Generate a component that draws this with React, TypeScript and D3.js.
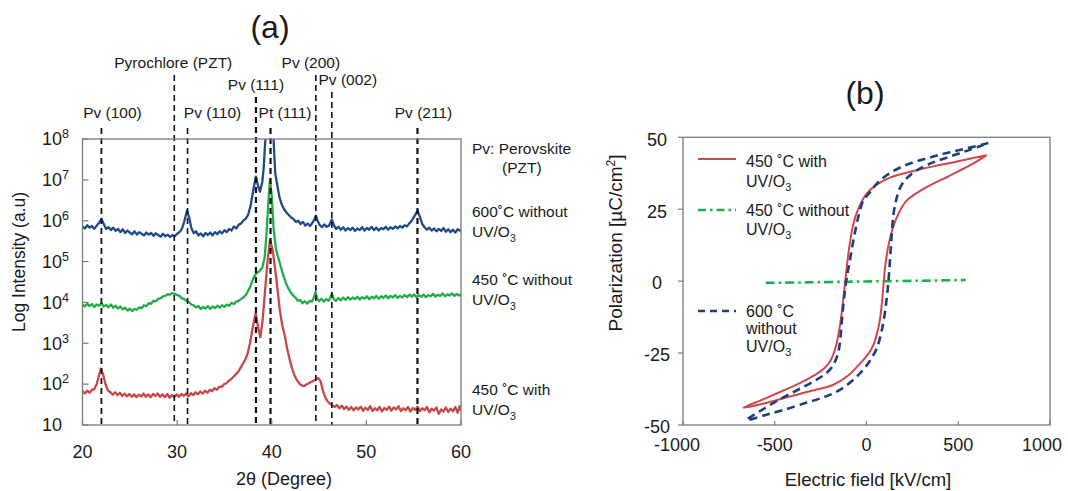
import React from 'react';
import * as d3 from 'd3';

const FONT = '"Liberation Sans", Arial, Helvetica, sans-serif';
const TEXT = '#1a1a1a';

// ---------- Panel (a): XRD, [2θ (deg), log10 intensity] ----------
const xrd600without: [number, number][] = [
  [20, 5.86], [20.25, 5.81], [20.5, 5.89], [20.75, 5.83], [21, 5.87], [21.25, 5.8], [21.5, 5.88], [21.75, 5.95],
  [22, 6.04], [22.25, 5.92], [22.5, 5.8], [22.75, 5.84], [23, 5.77], [23.25, 5.83], [23.5, 5.75], [23.75, 5.8],
  [24, 5.72], [24.25, 5.79], [24.5, 5.7], [24.75, 5.76], [25, 5.71], [25.25, 5.67], [25.5, 5.74], [25.75, 5.66],
  [26, 5.72], [26.25, 5.68], [26.5, 5.64], [26.75, 5.71], [27, 5.66], [27.25, 5.7], [27.5, 5.63], [27.75, 5.69],
  [28, 5.65], [28.25, 5.61], [28.5, 5.68], [28.75, 5.62], [29, 5.66], [29.25, 5.6], [29.5, 5.65], [29.75, 5.62],
  [30, 5.68], [30.25, 5.72], [30.5, 5.8], [30.75, 5.98], [31.05, 6.25], [31.3, 6.05], [31.5, 5.82], [31.75, 5.7],
  [32, 5.74], [32.25, 5.64], [32.5, 5.69], [32.75, 5.62], [33, 5.7], [33.25, 5.65], [33.5, 5.71], [33.75, 5.64],
  [34, 5.72], [34.25, 5.67], [34.5, 5.74], [34.75, 5.69], [35, 5.77], [35.25, 5.72], [35.5, 5.8], [35.75, 5.76],
  [36, 5.86], [36.25, 5.81], [36.5, 5.9], [36.75, 5.93], [37, 6.0], [37.25, 6.05], [37.5, 6.14], [37.75, 6.35],
  [38.05, 6.75], [38.33, 7.08], [38.55, 6.85], [38.75, 6.71], [39.0, 6.95], [39.15, 7.3], [39.3, 7.9],
  [39.5, 8.4], [39.9, 8.6], [40.15, 8.2], [40.37, 7.16], [40.6, 6.85], [40.8, 6.59], [41.05, 6.4],
  [41.3, 6.28], [41.55, 6.2], [41.8, 6.14], [42.05, 6.08], [42.3, 6.04], [42.55, 5.97], [42.8, 6.0],
  [43.05, 5.92], [43.3, 5.97], [43.55, 5.88], [43.8, 5.93], [44.05, 5.87], [44.3, 5.95], [44.5, 6.03],
  [44.66, 6.12], [44.85, 6.0], [45.05, 5.9], [45.3, 5.84], [45.55, 5.91], [45.8, 5.85], [46.05, 5.88],
  [46.2, 5.95], [46.35, 6.03], [46.55, 5.9], [46.8, 5.8], [47.05, 5.85], [47.3, 5.78], [47.55, 5.84],
  [47.8, 5.76], [48.05, 5.82], [48.3, 5.77], [48.55, 5.83], [48.8, 5.75], [49.05, 5.81], [49.3, 5.77],
  [49.55, 5.84], [49.8, 5.76], [50.05, 5.82], [50.3, 5.78], [50.55, 5.85], [50.8, 5.77], [51.05, 5.83],
  [51.3, 5.76], [51.55, 5.82], [51.8, 5.79], [52.05, 5.85], [52.3, 5.78], [52.55, 5.84], [52.8, 5.8],
  [53.05, 5.86], [53.3, 5.81], [53.55, 5.87], [53.8, 5.83], [54.05, 5.89], [54.3, 5.86], [54.55, 5.94],
  [54.8, 6.0], [55.05, 6.1], [55.4, 6.24], [55.65, 6.1], [55.9, 5.92], [56.15, 5.84], [56.4, 5.78],
  [56.65, 5.83], [56.9, 5.76], [57.15, 5.81], [57.4, 5.74], [57.65, 5.8], [57.9, 5.75], [58.15, 5.82],
  [58.4, 5.73], [58.65, 5.79], [58.9, 5.72], [59.15, 5.78], [59.4, 5.71], [59.65, 5.79], [60, 5.74],
];

const xrd450without: [number, number][] = [
  [20, 3.95], [20.25, 3.9], [20.5, 3.97], [20.75, 3.91], [21, 3.96], [21.25, 3.89], [21.5, 3.95], [21.75, 3.92],
  [22, 3.98], [22.25, 3.9], [22.5, 3.94], [22.75, 3.88], [23, 3.95], [23.25, 3.87], [23.5, 3.92], [23.75, 3.85],
  [24, 3.9], [24.25, 3.83], [24.5, 3.87], [24.75, 3.8], [25, 3.85], [25.25, 3.79], [25.5, 3.84], [25.75, 3.82],
  [26, 3.88], [26.25, 3.86], [26.5, 3.93], [26.75, 3.91], [27, 3.98], [27.25, 3.97], [27.5, 4.04], [27.75, 4.03],
  [28, 4.09], [28.25, 4.1], [28.5, 4.15], [28.75, 4.16], [29, 4.2], [29.25, 4.19], [29.5, 4.23], [29.75, 4.21],
  [30, 4.18], [30.25, 4.16], [30.5, 4.1], [30.75, 4.08], [31, 4.04], [31.25, 4.01], [31.5, 3.95], [31.75, 3.93],
  [32, 3.88], [32.25, 3.91], [32.5, 3.84], [32.75, 3.89], [33, 3.85], [33.25, 3.91], [33.5, 3.84], [33.75, 3.9],
  [34, 3.86], [34.25, 3.92], [34.5, 3.87], [34.75, 3.93], [35, 3.89], [35.25, 3.95], [35.5, 3.92], [35.75, 3.99],
  [36, 3.96], [36.25, 4.02], [36.5, 4.04], [36.75, 4.08], [37, 4.12], [37.25, 4.18], [37.5, 4.28], [37.75, 4.4],
  [38, 4.56], [38.25, 4.68], [38.5, 4.73], [38.75, 4.78], [39.0, 4.85], [39.25, 5.1], [39.45, 5.7], [39.65, 6.5],
  [39.82, 7.0], [40.0, 6.6], [40.2, 5.8], [40.45, 5.3], [40.85, 4.96], [41.2, 4.68], [41.5, 4.47], [41.75, 4.35],
  [42, 4.25], [42.25, 4.17], [42.5, 4.12], [42.75, 4.04], [43, 4.06], [43.25, 3.98], [43.5, 4.03], [43.75, 3.97],
  [44, 4.04], [44.25, 4.02], [44.45, 4.12], [44.62, 4.25], [44.8, 4.1], [45.0, 4.03], [45.25, 4.09], [45.5, 4.02],
  [45.75, 4.08], [46.0, 4.04], [46.2, 4.12], [46.35, 4.22], [46.55, 4.08], [46.8, 4.04], [47.05, 4.11],
  [47.3, 4.05], [47.55, 4.12], [47.8, 4.06], [48.05, 4.13], [48.3, 4.07], [48.55, 4.12], [48.8, 4.08],
  [49.05, 4.14], [49.3, 4.07], [49.55, 4.13], [49.8, 4.09], [50.05, 4.15], [50.3, 4.08], [50.55, 4.14],
  [50.8, 4.1], [51.05, 4.16], [51.3, 4.09], [51.55, 4.15], [51.8, 4.11], [52.05, 4.17], [52.3, 4.1],
  [52.55, 4.16], [52.8, 4.12], [53.05, 4.18], [53.3, 4.11], [53.55, 4.16], [53.8, 4.12], [54.05, 4.18],
  [54.3, 4.13], [54.55, 4.19], [54.8, 4.14], [55.05, 4.19], [55.3, 4.13], [55.55, 4.18], [55.8, 4.14],
  [56.05, 4.19], [56.3, 4.13], [56.55, 4.18], [56.8, 4.15], [57.05, 4.21], [57.3, 4.14], [57.55, 4.19],
  [57.8, 4.16], [58.05, 4.22], [58.3, 4.15], [58.55, 4.2], [58.8, 4.17], [59.05, 4.22], [59.3, 4.16],
  [59.55, 4.21], [59.8, 4.17], [60, 4.2],
];

const xrd450with: [number, number][] = [
  [20, 1.83], [20.25, 1.77], [20.5, 1.84], [20.75, 1.79], [21, 1.86], [21.25, 1.88], [21.5, 2.0], [21.7, 2.18],
  [21.95, 2.38], [22.2, 2.22], [22.45, 1.98], [22.7, 1.84], [22.95, 1.8], [23.2, 1.74], [23.45, 1.8], [23.7, 1.73],
  [23.95, 1.79], [24.2, 1.71], [24.45, 1.77], [24.7, 1.7], [24.95, 1.76], [25.2, 1.69], [25.45, 1.75], [25.7, 1.68],
  [25.95, 1.74], [26.2, 1.7], [26.45, 1.77], [26.7, 1.69], [26.95, 1.75], [27.2, 1.68], [27.45, 1.76], [27.7, 1.71],
  [27.95, 1.77], [28.2, 1.69], [28.45, 1.75], [28.7, 1.68], [28.95, 1.76], [29.2, 1.67], [29.45, 1.73], [29.7, 1.68],
  [29.95, 1.75], [30.2, 1.69], [30.45, 1.76], [30.7, 1.71], [30.95, 1.77], [31.2, 1.7], [31.45, 1.78], [31.7, 1.73],
  [31.95, 1.8], [32.2, 1.75], [32.45, 1.82], [32.7, 1.77], [32.95, 1.84], [33.2, 1.79], [33.45, 1.86], [33.7, 1.83],
  [33.95, 1.9], [34.2, 1.86], [34.45, 1.94], [34.7, 1.93], [34.95, 2.0], [35.2, 2.02], [35.45, 2.08], [35.7, 2.12],
  [35.95, 2.18], [36.2, 2.24], [36.45, 2.3], [36.7, 2.4], [36.95, 2.5], [37.2, 2.6], [37.45, 2.75], [37.7, 3.0],
  [38.0, 3.4], [38.3, 3.74], [38.55, 3.4], [38.8, 3.15], [39.05, 3.6], [39.3, 4.3], [39.55, 5.0], [39.82, 5.53],
  [40.1, 5.28], [40.5, 4.55], [40.85, 3.81], [41.1, 3.45], [41.4, 3.16], [41.65, 2.85], [41.9, 2.6], [42.15, 2.38],
  [42.4, 2.22], [42.65, 2.1], [42.9, 2.02], [43.15, 1.97], [43.4, 1.95], [43.65, 1.99], [43.9, 2.02], [44.15, 2.05],
  [44.4, 2.08], [44.65, 2.12], [44.9, 2.15], [45.15, 2.08], [45.4, 1.85], [45.65, 1.68], [45.9, 1.58], [46.15, 1.52],
  [46.4, 1.48], [46.65, 1.44], [46.9, 1.49], [47.15, 1.41], [47.4, 1.47], [47.65, 1.39], [47.9, 1.45], [48.15, 1.37],
  [48.4, 1.44], [48.65, 1.36], [48.9, 1.43], [49.15, 1.38], [49.4, 1.45], [49.65, 1.35], [49.9, 1.42], [50.15, 1.37],
  [50.4, 1.46], [50.65, 1.34], [50.9, 1.41], [51.15, 1.36], [51.4, 1.44], [51.65, 1.33], [51.9, 1.42], [52.15, 1.37],
  [52.4, 1.45], [52.65, 1.35], [52.9, 1.43], [53.15, 1.38], [53.4, 1.46], [53.65, 1.34], [53.9, 1.41], [54.15, 1.36],
  [54.4, 1.44], [54.65, 1.33], [54.9, 1.42], [55.15, 1.37], [55.4, 1.45], [55.65, 1.34], [55.9, 1.41], [56.15, 1.36],
  [56.4, 1.44], [56.65, 1.31], [56.9, 1.4], [57.15, 1.35], [57.4, 1.43], [57.65, 1.27], [57.9, 1.38], [58.15, 1.33],
  [58.4, 1.43], [58.65, 1.32], [58.9, 1.4], [59.15, 1.34], [59.4, 1.44], [59.65, 1.3], [59.85, 1.46], [60, 1.35],
];

const peakPositions = [22.0, 29.7, 31.1, 38.33, 39.87, 44.66, 46.35, 55.4];
const peakNames = ['Pv (100)', 'Pyrochlore (PZT)', 'Pv (110)', 'Pv (111)', 'Pt (111)', 'Pv (200)', 'Pv (002)', 'Pv (211)'];
const xTicksA = [20, 30, 40, 50, 60];
const yExponentsA = [1, 2, 3, 4, 5, 6, 7, 8];
const seriesNotesA = [
  ['Pv: Perovskite', '(PZT)'],
  ['600˚C without', 'UV/O_3'],
  ['450 ˚C without', 'UV/O_3'],
  ['450 ˚C with', 'UV/O_3'],
];

// ---------- Panel (b): P-E loops, [E (kV/cm), P (µC/cm²)] ----------
const loop450with: [number, number][] = [
  [655, 43.8], [550, 42.4], [450, 41], [364, 39.9], [250, 38.2], [128, 36], [50, 33.3], [1, 30.4],
  [-35, 26.5], [-60, 22.5], [-78, 18], [-90, 13.5], [-99, 9.6], [-108, 4.5], [-117, -0.8], [-127, -6.5],
  [-137, -12], [-150, -17.5], [-168, -23], [-195, -27.5], [-230, -30.3], [-271, -32.2], [-350, -35],
  [-453, -38], [-560, -41], [-671, -44],
  [-560, -42.5], [-453, -40.7], [-330, -38.6], [-181, -36], [-100, -32.8], [-35, -28.6], [10, -25.3],
  [40, -21.8], [60, -17.5], [74, -13], [84, -7.5], [92, -1.5], [100, 4], [110, 9], [125, 14], [146, 19],
  [180, 24.2], [219, 28], [290, 31.3], [364, 33.9], [440, 36.2], [510, 38.5], [585, 41], [655, 43.8],
];

const loop600without: [number, number][] = [
  [664, 48], [550, 46.2], [455, 44.8], [364, 43.3], [270, 41.6], [183, 39.5], [110, 36.8], [55, 33.8],
  [15, 30.6], [-17, 28.1], [-40, 23.5], [-58, 18.5], [-75, 13], [-90, 7.5], [-104, 2.5], [-116, -2.5],
  [-126, -8], [-134, -13.5], [-141, -19], [-150, -23.5], [-165, -27], [-190, -30], [-225, -32.3],
  [-271, -34.2], [-360, -37.3], [-453, -40.4], [-550, -44], [-653, -48.3],
  [-550, -46.5], [-453, -44.8], [-330, -42.3], [-240, -40.5], [-181, -39], [-110, -36.3], [-35, -32],
  [15, -28], [55, -23.5], [80, -18], [98, -12], [110, -6], [119, -0.5], [126, 5.5], [133, 12], [140, 18.5],
  [150, 24.5], [165, 29], [185, 32.7], [220, 35.8], [274, 38.5], [360, 41.2], [455, 43.3], [560, 45.6],
  [664, 48],
];

const line450without: [number, number][] = [
  [-549, -0.6], [-300, -0.4], [0, -0.1], [300, 0.15], [541, 0.4],
];

const xTicksB = [-1000, -500, 0, 500, 1000];
const yTicksB = [-50, -25, 0, 25, 50];
const legendB = [
  ['450 ˚C with', 'UV/O_3'],
  ['450 ˚C without', 'UV/O_3'],
  ['600 ˚C', 'without', 'UV/O_3'],
];

// ---------- layout ----------
const A = { left: 82.5, right: 461, top: 139, bottom: 425 };
const B = { left: 683, right: 1050, top: 137.3, bottom: 425 };
const peakLayout = [
  { dx: 11, labelY: 113, lineTop: 128, w: 1.8 },
  { dx: -1, labelY: 63, lineTop: 75, w: 1.6 },
  { dx: 25, labelY: 113, lineTop: 128, w: 1.6 },
  { dx: 0, labelY: 85, lineTop: 97, w: 2.2 },
  { dx: 14.5, labelY: 113, lineTop: 128, w: 2.2 },
  { dx: -5, labelY: 63, lineTop: 75, w: 1.6 },
  { dx: 16, labelY: 80, lineTop: 92, w: 1.6 },
  { dx: 6, labelY: 113, lineTop: 128, w: 2.2 },
];
const notesLayout = [
  { ys: [149, 168], xs: [472, 502] },
  { ys: [212, 232], xs: [472, 472] },
  { ys: [280, 300], xs: [472, 472] },
  { ys: [390, 410], xs: [472, 472] },
];
const legendLayout = [
  { sampleY: 159, ys: [161, 181] },
  { sampleY: 210, ys: [210, 229] },
  { sampleY: 311, ys: [311, 328, 346] },
];
const xTickLabelDxB = [-6, 0, 0, 0, -8];

const colorsA = { c600: '#1f4b8c', c450wo: '#22ac4a', c450w: '#c8484a' };
const colorsB = { red: '#d2474b', green: '#1fae4a', blue: '#1d3f7e' };

function Label({ x, y, text, size, anchor = 'start' }: { x: number; y: number; text: string; size: number; anchor?: string }) {
  const [main, sub] = text.split('_');
  return (
    <text x={x} y={y} dy="0.35em" fontSize={size} textAnchor={anchor as any} fill={TEXT} fontFamily={FONT}>
      {main}
      {sub !== undefined && (
        <tspan fontSize={size * 0.68} dy={size * 0.3}>{sub}</tspan>
      )}
    </text>
  );
}

export default function App() {
  const ax = d3.scaleLinear().domain([20, 60]).range([A.left, A.right]);
  const ay = d3.scaleLog().domain([10, 1e8]).range([A.bottom, A.top]);
  const lineA = d3
    .line<[number, number]>()
    .x((d) => ax(d[0]))
    .y((d) => ay(Math.pow(10, d[1])));

  const bx = d3.scaleLinear().domain([-1000, 1000]).range([B.left, B.right]);
  const by = d3.scaleLinear().domain([-50, 50]).range([B.bottom, B.top]);
  const lineB = d3
    .line<[number, number]>()
    .x((d) => bx(d[0]))
    .y((d) => by(d[1]))
    .curve(d3.curveCatmullRom.alpha(0.5));

  const frame = '#7a7a7a';

  return (
    <svg
      width={1068}
      height={491}
      style={{ position: 'absolute', left: 0, top: 0, background: '#fff' }}
      fontFamily={FONT}
    >
      <rect x={0} y={0} width={1068} height={491} fill="#fff" />
      <defs>
        <clipPath id="clipA">
          <rect x={A.left} y={A.top} width={A.right - A.left} height={A.bottom - A.top} />
        </clipPath>
        <clipPath id="clipB">
          <rect x={B.left} y={B.top} width={B.right - B.left} height={B.bottom - B.top} />
        </clipPath>
      </defs>

      {/* ===== Panel (a) ===== */}
      <text x={270} y={27} dy="0.35em" fontSize={32} textAnchor="middle" fill={TEXT}>(a)</text>

      <g clipPath="url(#clipA)">
        <path d={lineA(xrd450with) || ''} fill="none" stroke={colorsA.c450w} strokeWidth={2.3} strokeLinejoin="round" />
        <path d={lineA(xrd450without) || ''} fill="none" stroke={colorsA.c450wo} strokeWidth={2.3} strokeLinejoin="round" />
        <path d={lineA(xrd600without) || ''} fill="none" stroke={colorsA.c600} strokeWidth={2.3} strokeLinejoin="round" />
      </g>

      {peakPositions.map((p, i) => {
        const L = peakLayout[i];
        const x = ax(p);
        return (
          <g key={'pk' + i}>
            <line x1={x} x2={x} y1={L.lineTop} y2={A.bottom} stroke="#111" strokeWidth={L.w} strokeDasharray="6,4" />
            <Label x={x + L.dx} y={L.labelY} text={peakNames[i]} size={15.5} anchor="middle" />
          </g>
        );
      })}

      <rect x={A.left} y={A.top} width={A.right - A.left} height={A.bottom - A.top} fill="none" stroke={frame} strokeWidth={1.3} />

      {yExponentsA.map((e) => (
        <g key={'ya' + e}>
          <line x1={A.left} x2={A.left + 6} y1={ay(Math.pow(10, e))} y2={ay(Math.pow(10, e))} stroke={frame} strokeWidth={1.2} />
          <text x={42} y={ay(Math.pow(10, e))} dy="0.35em" fontSize={18} fill={TEXT}>
            10
            {e > 1 && (
              <tspan fontSize={12.5} dy={-7}>{e}</tspan>
            )}
          </text>
        </g>
      ))}
      {xTicksA.map((t) => (
        <g key={'xa' + t}>
          <line x1={ax(t)} x2={ax(t)} y1={A.bottom} y2={A.bottom - 5} stroke={frame} strokeWidth={1.2} />
          <text x={ax(t)} y={452} dy="0.35em" fontSize={18} textAnchor="middle" fill={TEXT}>{t}</text>
        </g>
      ))}
      <text x={284} y={479} dy="0.35em" fontSize={18} textAnchor="middle" fill={TEXT}>2θ (Degree)</text>
      <text
        transform={`translate(19,262) rotate(-90)`}
        dy="0.35em"
        fontSize={17.5}
        textAnchor="middle"
        fill={TEXT}
      >
        Log Intensity (a.u)
      </text>

      {seriesNotesA.map((lines, i) =>
        lines.map((t, j) => (
          <Label key={'na' + i + j} x={notesLayout[i].xs[j]} y={notesLayout[i].ys[j]} text={t} size={15.5} />
        ))
      )}

      {/* ===== Panel (b) ===== */}
      <text x={865} y={93} dy="0.35em" fontSize={32} textAnchor="middle" fill={TEXT}>(b)</text>

      <g clipPath="url(#clipB)">
        <path d={lineB(line450without) || ''} fill="none" stroke={colorsB.green} strokeWidth={2.6} strokeDasharray="9,4,2.5,4" />
        <path d={lineB(loop450with) || ''} fill="none" stroke={colorsB.red} strokeWidth={2} />
        <path d={lineB(loop600without) || ''} fill="none" stroke={colorsB.blue} strokeWidth={2.6} strokeDasharray="8,5" />
      </g>

      <rect x={B.left} y={B.top} width={B.right - B.left} height={B.bottom - B.top} fill="none" stroke={frame} strokeWidth={1.3} />

      {yTicksB.map((t) => (
        <g key={'yb' + t}>
          <line x1={B.left - 5} x2={B.left} y1={by(t)} y2={by(t)} stroke={frame} strokeWidth={1.2} />
          <text x={657} y={by(t) + 2} dy="0.35em" fontSize={18} textAnchor="middle" fill={TEXT}>{t}</text>
        </g>
      ))}
      {xTicksB.map((t, i) => (
        <g key={'xb' + t}>
          <line x1={bx(t)} x2={bx(t)} y1={B.bottom} y2={B.bottom - 4} stroke={frame} strokeWidth={1.2} />
          <text x={bx(t) + xTickLabelDxB[i]} y={445} dy="0.35em" fontSize={18} textAnchor="middle" fill={TEXT}>{t}</text>
        </g>
      ))}
      <text x={868} y={480} dy="0.35em" fontSize={18.5} textAnchor="middle" fill={TEXT}>Electric field [kV/cm]</text>
      <text transform={`translate(615,243) rotate(-90)`} dy="0.35em" fontSize={19} textAnchor="middle" fill={TEXT}>
        Polarization [µC/cm<tspan fontSize={12} dy={-7}>2</tspan><tspan dy={7}>]</tspan>
      </text>

      {legendB.map((lines, i) => {
        const L = legendLayout[i];
        const style =
          i === 0
            ? { stroke: colorsB.red, w: 2, dash: undefined }
            : i === 1
            ? { stroke: colorsB.green, w: 2.4, dash: '8,4,2.5,4' }
            : { stroke: colorsB.blue, w: 2.4, dash: '7,5' };
        return (
          <g key={'lg' + i}>
            <line x1={698} x2={736} y1={L.sampleY} y2={L.sampleY} stroke={style.stroke} strokeWidth={style.w} strokeDasharray={style.dash} />
            {lines.map((t, j) => (
              <Label key={j} x={746} y={L.ys[j]} text={t} size={16} />
            ))}
          </g>
        );
      })}
    </svg>
  );
}
